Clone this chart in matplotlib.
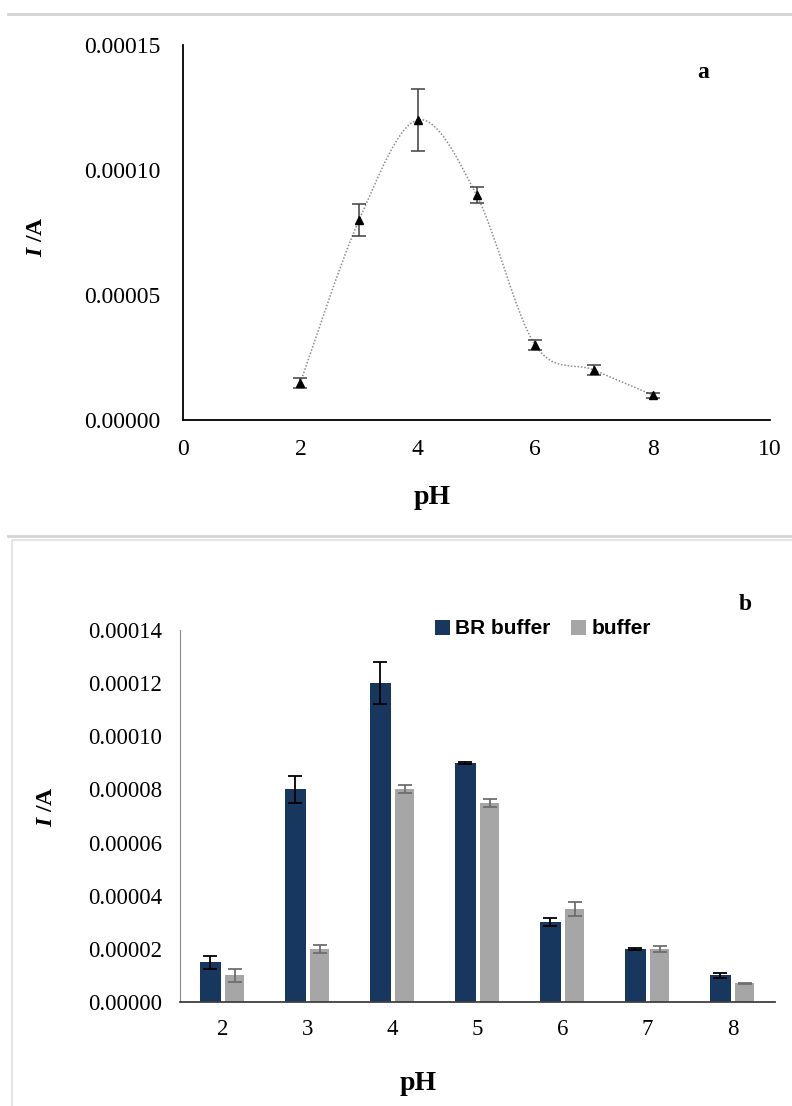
import numpy as np
import matplotlib
matplotlib.use('Agg')
import matplotlib.pyplot as plt
from matplotlib.path import Path
from matplotlib.patches import PathPatch, Rectangle
from matplotlib.lines import Line2D

plt.rcParams['font.family'] = ['Liberation Serif', 'DejaVu Serif']
plt.rcParams['mathtext.fontset'] = 'custom'
plt.rcParams['mathtext.it'] = 'Liberation Serif:bold:italic'
plt.rcParams['mathtext.rm'] = 'Liberation Serif:bold'

# panel a data
ph = [2, 3, 4, 5, 6, 7, 8]
current = [0.000015, 0.00008, 0.00012, 0.00009, 0.00003, 0.00002, 0.00001]
current_err = [0.000002, 0.0000065, 0.0000125, 0.000003, 0.000002, 0.000002, 0.000001]

# panel b data
ph_labels = ['2', '3', '4', '5', '6', '7', '8']
br_buffer = [0.000015, 0.00008, 0.00012, 0.00009, 0.00003, 0.00002, 0.00001]
br_err = [0.0000025, 0.000005, 0.000008, 0.0000005, 0.0000015, 0.0000005, 0.0000008]
buffer = [0.00001, 0.00002, 0.00008, 0.000075, 0.000035, 0.00002, 0.000007]
buffer_err = [0.0000025, 0.0000015, 0.0000015, 0.0000015, 0.0000025, 0.000001, 0.0000003]

W, H = 792, 1106
fig = plt.figure(figsize=(W / 100, H / 100), dpi=100)


def fx(px):
    return px / W


def fy(py):
    return 1 - py / H


def smooth_path(x, y):
    # Excel-style smoothed line: Catmull-Rom segments as cubic Beziers
    pts = np.column_stack([x, y]).astype(float)
    verts = [pts[0]]
    codes = [Path.MOVETO]
    n = len(pts)
    for i in range(n - 1):
        p0 = pts[max(i - 1, 0)]
        p1 = pts[i]
        p2 = pts[i + 1]
        p3 = pts[min(i + 2, n - 1)]
        c1 = p1 + (p2 - p0) / 6
        c2 = p2 - (p3 - p1) / 6
        verts += [c1, c2, p2]
        codes += [Path.CURVE4] * 3
    return Path(verts, codes)


# ---- panel a ----
ax1 = fig.add_axes([fx(183), fy(420), (770 - 183) / W, (420 - 45) / H])
ax1.add_patch(PathPatch(smooth_path(ph, current), fill=False, edgecolor='#8c8c8c',
                        lw=1.1, linestyle=(0, (1, 1.2))))
ax1.errorbar(ph, current, yerr=current_err, fmt='^', color='black', ms=5.5,
             ecolor='#404040', elinewidth=1.1, capsize=5, capthick=1.1)
ax1.set_xlim(0, 10)
ax1.set_ylim(0, 0.00015)
ax1.set_xticks([0, 2, 4, 6, 8, 10])
ax1.set_yticks([0, 0.00005, 0.0001, 0.00015])
ax1.set_yticklabels(['0.00000', '0.00005', '0.00010', '0.00015'])
ax1.tick_params(length=0, labelsize=17)
ax1.tick_params(axis='x', pad=14)
ax1.tick_params(axis='y', pad=16)
for s in ['top', 'right']:
    ax1.spines[s].set_visible(False)
for s in ['left', 'bottom']:
    ax1.spines[s].set_linewidth(1.3)
fig.text(fx(432), fy(497), 'pH', fontsize=20, fontweight='bold', ha='center', va='center')
fig.text(fx(36), fy(237), r'$I$ /A', fontsize=17, fontweight='bold', rotation=90,
         ha='center', va='center')
fig.text(fx(703), fy(72), 'a', fontsize=17, fontweight='bold', ha='center', va='center')

# ---- panel b ----
ax2 = fig.add_axes([fx(180), fy(1002), (775 - 180) / W, (1002 - 630) / H])
x = np.arange(len(ph_labels))
bw = 0.25
ax2.bar(x - bw / 2 - 0.02, br_buffer, bw, color='#17375e', label='BR buffer',
        yerr=br_err, error_kw=dict(ecolor='black', elinewidth=1.3, capsize=5, capthick=1.3))
ax2.bar(x + bw / 2 + 0.02, buffer, bw * 0.9, color='#a6a6a6', label='buffer',
        yerr=buffer_err, error_kw=dict(ecolor='#6e6e6e', elinewidth=1.3, capsize=5, capthick=1.3))
ax2.set_xlim(-0.5, len(ph_labels) - 0.5)
ax2.set_ylim(0, 0.00014)
ax2.set_xticks(x)
ax2.set_xticklabels(ph_labels)
yt = np.arange(0, 0.000141, 0.00002)
ax2.set_yticks(yt)
ax2.set_yticklabels(['%.5f' % v for v in yt])
ax2.tick_params(length=0, labelsize=16.5)
ax2.tick_params(axis='x', pad=12)
ax2.tick_params(axis='y', pad=13)
for s in ['top', 'right']:
    ax2.spines[s].set_visible(False)
ax2.spines['left'].set_color('#8a8a8a')
ax2.spines['bottom'].set_color('#404040')
ax2.spines['bottom'].set_linewidth(1.3)
fig.text(fx(418), fy(1084), 'pH', fontsize=20, fontweight='bold', ha='center', va='center')
fig.text(fx(46), fy(807), r'$I$ /A', fontsize=17, fontweight='bold', rotation=90,
         ha='center', va='center')
leg = ax2.legend(loc='center', bbox_to_anchor=(fx(543), fy(629)),
                 bbox_transform=fig.transFigure, ncol=2, frameon=False,
                 handlelength=0.7, handleheight=0.7, handletextpad=0.25, columnspacing=1.0,
                 prop={'family': ['Liberation Sans Narrow', 'Liberation Sans'],
                       'weight': 'bold', 'size': 15})
fig.text(fx(745), fy(605), 'b', fontsize=17, fontweight='bold', ha='center', va='center')

# frame lines of the composite figure
fig.add_artist(Line2D([fx(8), 1], [fy(14)] * 2, color='#d4d4d4', lw=2))
fig.add_artist(Line2D([fx(8), 1], [fy(536)] * 2, color='#d4d4d4', lw=2))
fig.add_artist(Rectangle((fx(12), -0.01), 1, fy(540) + 0.01, fill=False,
                         edgecolor='#e2e2e2', lw=1.2))

fig.savefig('out.png', dpi=100)
